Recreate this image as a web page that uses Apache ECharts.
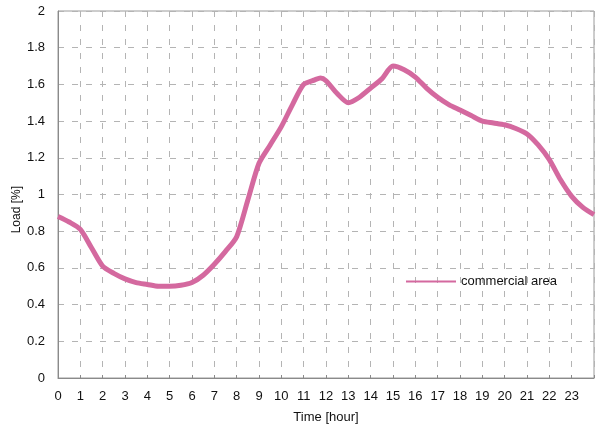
<!DOCTYPE html>
<html>
<head>
<meta charset="utf-8">
<script src="https://cdn.jsdelivr.net/npm/echarts@6/dist/echarts.min.js"></script>
<style>
  html, body { margin: 0; padding: 0; background: #fff; }
  #chart { width: 597px; height: 429px; }
</style>
</head>
<body>
<div id="chart"></div>
<script>
// Daily load profile of a commercial area, sampled every half hour
const hours = [0, 0.5, 1, 1.5, 2, 2.5, 3, 3.5, 4, 4.5, 5, 5.5, 6, 6.5, 7, 7.5, 8, 8.5, 9, 9.5,
  10, 10.5, 11, 11.5, 11.75, 12, 12.5, 13, 13.5, 14, 14.5, 15, 15.5, 16, 16.5, 17, 17.5, 18, 18.5, 19,
  19.5, 20, 20.5, 21, 21.5, 22, 22.5, 23, 23.5, 24];
const load = [0.88, 0.85, 0.81, 0.71, 0.61, 0.57, 0.54, 0.52, 0.51, 0.50, 0.50, 0.505, 0.52, 0.56, 0.62, 0.69, 0.77, 0.97, 1.17, 1.27,
  1.37, 1.49, 1.60, 1.625, 1.635, 1.62, 1.55, 1.50, 1.53, 1.58, 1.63, 1.70, 1.68, 1.64, 1.58, 1.53, 1.49, 1.46, 1.43, 1.40,
  1.39, 1.38, 1.36, 1.33, 1.27, 1.19, 1.08, 0.99, 0.93, 0.89];
const seriesName = 'commercial area';
const xTitle = 'Time [hour]';
const yTitle = 'Load [%]';

const chart = echarts.init(document.getElementById('chart'), null, { renderer: 'canvas' });
const font = '"Liberation Sans", Arial, sans-serif';
const gridColor = '#b4b4b4';
const lineColor = '#d4699f';

chart.setOption({
  animation: false,
  backgroundColor: '#fff',
  textStyle: { fontFamily: font },
  grid: {
    left: 58, right: -4, top: 11, bottom: 51,
    show: true, borderColor: '#9a9a9a', borderWidth: 1, backgroundColor: 'transparent'
  },
  legend: {
    left: 401, top: 270,
    icon: 'rect', itemWidth: 50, itemHeight: 2, itemGap: 4,
    textStyle: { fontSize: 13, color: '#111', fontFamily: font },
    data: [seriesName]
  },
  xAxis: {
    type: 'value', min: 0, max: 24, interval: 1,
    name: xTitle, nameLocation: 'middle', nameGap: 33,
    nameTextStyle: { fontSize: 13, color: '#111', fontFamily: font },
    axisLine: { show: true, lineStyle: { color: '#8a8a8a', width: 1 } },
    axisTick: { show: true, inside: true, length: 3, lineStyle: { color: '#8a8a8a' } },
    axisLabel: {
      fontSize: 13, color: '#111', margin: 12,
      formatter: v => (v < 24 ? String(v) : '')
    },
    splitLine: { show: true, lineStyle: { color: gridColor, width: 1, type: [6, 8] } }
  },
  yAxis: {
    type: 'value', min: 0, max: 2, interval: 0.2,
    axisLine: { show: true, lineStyle: { color: '#8a8a8a', width: 1 } },
    axisTick: { show: false },
    axisLabel: {
      fontSize: 13, color: '#111', margin: 13,
      formatter: v => String(+v.toFixed(1))
    },
    splitLine: { show: true, lineStyle: { color: gridColor, width: 1, type: [6, 8] } }
  },
  graphic: [{
    type: 'text',
    left: 11, top: 186,
    rotation: Math.PI / 2,
    style: { text: yTitle, font: '12px ' + font, fill: '#111' }
  }],
  series: [{
    name: seriesName,
    type: 'line',
    data: hours.map((h, i) => [h, load[i]]),
    smooth: 0.25,
    showSymbol: false,
    lineStyle: { color: lineColor, width: 5 },
    itemStyle: { color: lineColor }
  }]
});
</script>
</body>
</html>
